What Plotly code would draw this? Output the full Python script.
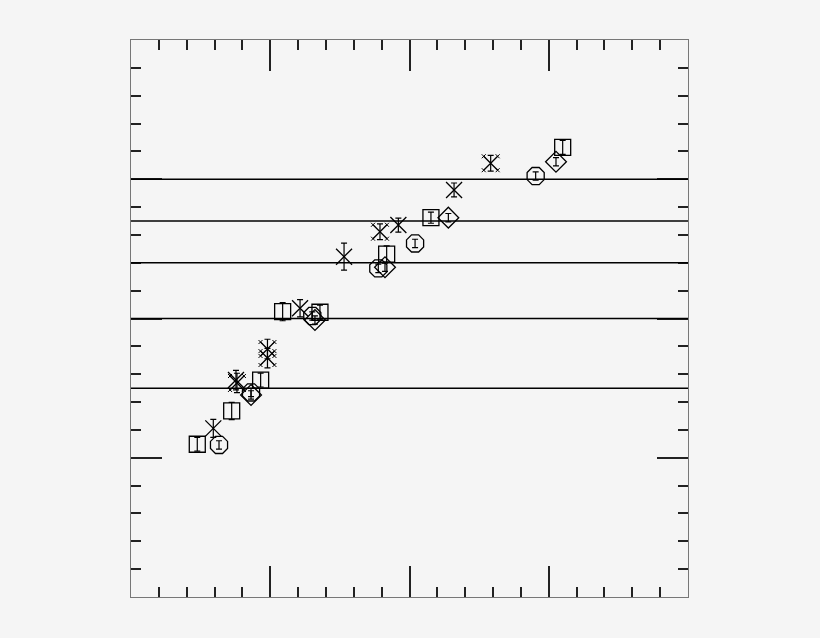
import plotly.graph_objects as go

# reference levels (horizontal lines)
levels = [3.0, 2.7, 2.4, 2.0, 1.5]

# squares
sq_x = [0.476, 0.723, 0.931, 1.089, 1.357, 1.836, 2.154, 3.100]
sq_y = [1.097, 1.336, 1.558, 2.049, 2.045, 2.463, 2.724, 3.229]
sq_e = [0.050, 0.062, 0.050, 0.065, 0.050, 0.058, 0.040, 0.050]

# octagons
oc_x = [0.632, 0.862, 1.302, 1.776, 2.040, 2.906]
oc_y = [1.092, 1.469, 2.018, 2.360, 2.539, 3.023]
oc_e = [0.030, 0.030, 0.030, 0.030, 0.030, 0.030]

# diamonds
di_x = [0.862, 1.321, 1.824, 2.279, 3.052]
di_y = [1.451, 1.989, 2.368, 2.724, 3.126]
di_e = [0.030, 0.030, 0.030, 0.030, 0.030]

# big crosses
xx_x = [0.591, 0.754, 1.214, 1.530, 1.920, 2.320]
xx_y = [1.211, 1.558, 2.073, 2.444, 2.671, 2.923]
xx_e = [0.065, 0.070, 0.062, 0.097, 0.050, 0.050]

# starred crosses
st_x = [0.761, 0.980, 0.980, 1.788, 2.583]
st_y = [1.537, 1.781, 1.716, 2.623, 3.115]
st_e = [0.070, 0.070, 0.070, 0.057, 0.057]

fig = go.Figure()

for y in levels:
    fig.add_hline(y=y, line=dict(color='black', width=1.5))

series = [
    (sq_x, sq_y, sq_e, 'square-open', 16),
    (oc_x, oc_y, oc_e, 'octagon-open', 18.5),
    (di_x, di_y, di_e, 'diamond-open', 16),
    (xx_x, xx_y, xx_e, 'x-thin-open', 16),
    (st_x, st_y, st_e, 'x-thin-open', 14),
]

for xs, ys, es, sym, size in series:
    fig.add_trace(go.Scatter(
        x=xs, y=ys, mode='markers',
        marker=dict(symbol=sym, size=size, color='black',
                    line=dict(color='black', width=1.3)),
        error_y=dict(type='data', array=es, visible=True,
                     color='black', thickness=1.2, width=3),
        showlegend=False,
    ))

# little crosses at the arm ends of the starred markers
d = 0.05
cx = [x + sx * d for x in st_x for sx in (-1, 1) for _ in (0, 1)]
cy = [y + sy * d for y in st_y for _ in (0, 1) for sy in (-1, 1)]
fig.add_trace(go.Scatter(
    x=cx, y=cy, mode='markers',
    marker=dict(symbol='x-thin-open', size=4, color='black',
                line=dict(color='black', width=1)),
    showlegend=False,
))

axis = dict(
    range=[0, 4], dtick=1, showgrid=False, zeroline=False,
    showticklabels=False, ticks='inside', ticklen=31, tickwidth=1.5,
    tickcolor='#222', showline=True, linecolor='#777', linewidth=1,
    mirror='allticks',
    minor=dict(dtick=0.2, ticks='inside', ticklen=10, tickwidth=1.5,
               tickcolor='#222', showgrid=False),
)

fig.update_layout(
    width=820, height=638,
    margin=dict(l=123, r=140, t=32, b=49),
    paper_bgcolor='#f5f5f5', plot_bgcolor='#f5f5f5',
    xaxis=axis, yaxis=axis,
)

fig.write_html("out.html",
               post_script="document.body.style.background='#f5f5f5';")
